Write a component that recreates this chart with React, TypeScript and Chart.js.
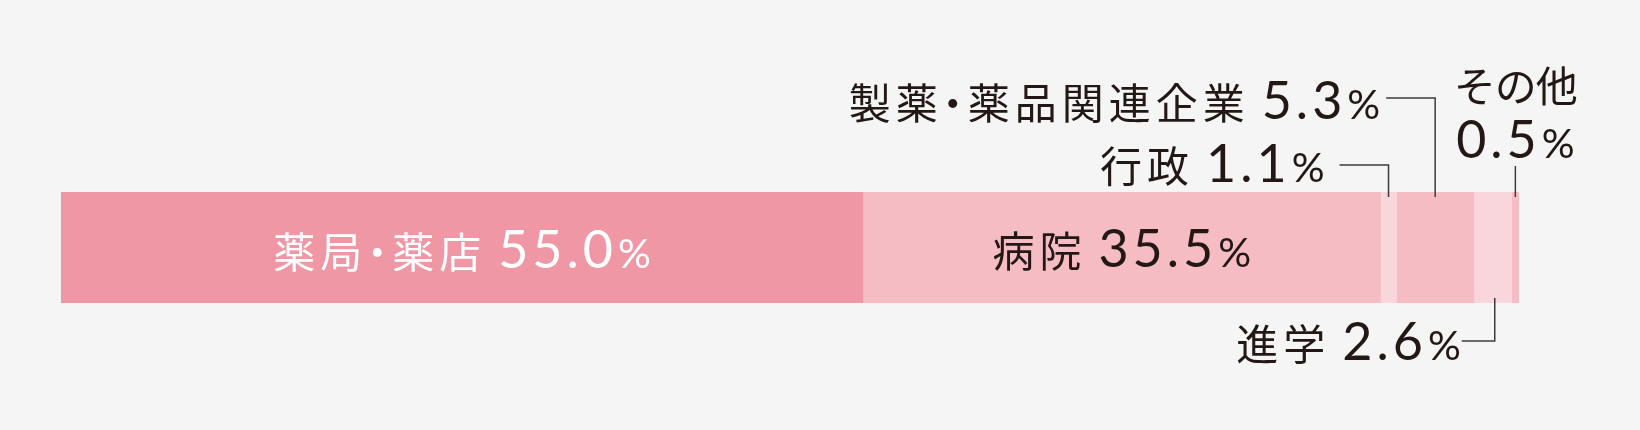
import React, { useEffect, useRef } from "react";
import { Chart, registerables } from "chart.js";

Chart.register(...registerables);

// ---- data ----
const categories = ["卒業後の進路"];
const seriesNames = ["薬局・薬店", "病院", "行政", "製薬・薬品関連企業", "進学", "その他"];
const seriesValues = [55.0, 35.5, 1.1, 5.3, 2.6, 0.5];
const valueLabels = ["55.0", "35.5", "1.1", "5.3", "2.6", "0.5"];
const unitLabel = "%";
const axisRange = [0, 100];

// ---- styles ----
const palette = ["#f097a5", "#f5bcc4", "#f9d6db", "#f5bcc4", "#f9d6db", "#f5bcc4"];
const BG = "#f5f5f5";
const DARK = "#231815";
const LINE = "#3e3a39";
const CJK = '"Noto Sans CJK JP", "Noto Sans CJK SC", sans-serif';
const NUM = 'Lato, "Noto Sans", sans-serif';

type Run = { text: string; font: string; ls?: number; gap?: number };

function measureRuns(ctx: CanvasRenderingContext2D, runs: Run[]) {
  const widths = runs.map((r) => {
    ctx.font = r.font;
    (ctx as any).letterSpacing = (r.ls || 0) + "px";
    return ctx.measureText(r.text).width;
  });
  let total = 0;
  runs.forEach((r, i) => {
    total += widths[i] + (r.gap || 0);
  });
  return { widths, total };
}

function drawRuns(
  ctx: CanvasRenderingContext2D,
  runs: Run[],
  x: number,
  y: number,
  align: "left" | "center" | "right",
  color: string
) {
  const { widths, total } = measureRuns(ctx, runs);
  let cur = align === "center" ? x - total / 2 : align === "right" ? x - total : x;
  ctx.fillStyle = color;
  ctx.textAlign = "left";
  ctx.textBaseline = "alphabetic";
  runs.forEach((r, i) => {
    ctx.font = r.font;
    (ctx as any).letterSpacing = (r.ls || 0) + "px";
    ctx.fillText(r.text, cur, y);
    cur += widths[i] + (r.gap || 0);
  });
  (ctx as any).letterSpacing = "0px";
}

const CJK_FONT = `400 42px ${CJK}`;
const CJK_LS = 5;

// split names at the middle dot so that it is set half-width
function nameRuns(t: string, endGap = 12, ls = CJK_LS): Run[] {
  const parts = t.split("・");
  const runs: Run[] = [];
  parts.forEach((p, k) => {
    if (k > 0) runs.push({ text: "・", font: CJK_FONT, ls, gap: -11 });
    runs.push({ text: p, font: CJK_FONT, ls, gap: k < parts.length - 1 ? -11 : endGap });
  });
  return runs;
}
function valueRun(t: string): Run {
  return { text: t, font: `400 52px ${NUM}`, ls: 4, gap: 1 };
}
function unitRun(): Run {
  return { text: unitLabel, font: `400 41px ${NUM}`, ls: 0, gap: 0 };
}

const labelPlugin = {
  id: "segLabels",
  beforeDraw(chart: any) {
    const ctx = chart.ctx as CanvasRenderingContext2D;
    ctx.save();
    ctx.fillStyle = BG;
    ctx.fillRect(0, 0, chart.width, chart.height);
    ctx.restore();
  },
  afterDatasetsDraw(chart: any) {
    const ctx = chart.ctx as CanvasRenderingContext2D;
    const xs = chart.scales.x;
    const area = chart.chartArea;
    const top = area.top;
    const bottom = area.bottom;
    const mid = (top + bottom) / 2;

    let acc = 0;
    const segs = seriesValues.map((v) => {
      const x0 = xs.getPixelForValue(acc);
      acc += v;
      const x1 = xs.getPixelForValue(acc);
      return { x0, x1, cx: (x0 + x1) / 2 };
    });

    const full = (i: number): Run[] => [...nameRuns(seriesNames[i]), valueRun(valueLabels[i]), unitRun()];

    ctx.save();
    // inside labels
    drawRuns(ctx, full(0), segs[0].cx, mid + 20, "center", "#ffffff");
    drawRuns(ctx, full(1), segs[1].cx, mid + 19, "center", DARK);

    ctx.strokeStyle = LINE;
    ctx.lineWidth = 1.5;
    const poly = (pts: number[][]) => {
      ctx.beginPath();
      pts.forEach((p, k) => (k === 0 ? ctx.moveTo(p[0], p[1]) : ctx.lineTo(p[0], p[1])));
      ctx.stroke();
    };

    // 行政
    {
      const cx = segs[2].cx;
      const ly = top - 27;
      drawRuns(ctx, full(2), cx - 64, top - 10, "right", DARK);
      poly([[cx - 49, ly], [cx, ly], [cx, top + 5]]);
    }
    // 製薬・薬品関連企業
    {
      const cx = segs[3].cx;
      const ly = top - 94;
      drawRuns(ctx, full(3), cx - 55, top - 73, "right", DARK);
      poly([[cx - 49, ly], [cx, ly], [cx, top + 5]]);
    }
    // 進学
    {
      const cx = segs[4].cx + 2;
      const ly = bottom + 38;
      drawRuns(ctx, full(4), cx - 34, bottom + 57, "right", DARK);
      poly([[cx, bottom - 5], [cx, ly], [cx - 33, ly]]);
    }
    // その他
    {
      const cx = segs[5].cx;
      drawRuns(ctx, nameRuns(seriesNames[5], 0, -1), cx, top - 90, "center", DARK);
      drawRuns(ctx, [valueRun(valueLabels[5]), unitRun()], cx, top - 34, "center", DARK);
      poly([[cx, top - 26], [cx, top + 5]]);
    }
    ctx.restore();
  },
};

export default function App() {
  const ref = useRef<HTMLCanvasElement | null>(null);
  useEffect(() => {
    document.body.style.margin = "0";
    document.body.style.background = BG;
    const canvas = ref.current;
    if (!canvas) return;
    const chart = new Chart(canvas, {
      type: "bar",
      data: {
        labels: categories,
        datasets: seriesNames.map((name, i) => ({
          label: name,
          data: [seriesValues[i]],
          backgroundColor: palette[i],
          borderWidth: 0,
          barPercentage: 1,
          categoryPercentage: 1,
        })),
      },
      options: {
        indexAxis: "y",
        animation: false,
        responsive: false,
        devicePixelRatio: 1,
        layout: { padding: { left: 61, right: 121, top: 192, bottom: 127 } },
        plugins: { legend: { display: false }, tooltip: { enabled: false } },
        scales: {
          x: { stacked: true, min: axisRange[0], max: axisRange[1], display: false },
          y: { stacked: true, display: false },
        },
      },
      plugins: [labelPlugin],
    } as any);
    return () => chart.destroy();
  }, []);
  return (
    <div style={{ position: "fixed", left: 0, top: 0, width: 1640, height: 430, background: BG }}>
      <canvas ref={ref} width={1640} height={430} style={{ width: 1640, height: 430, display: "block" }} />
    </div>
  );
}
